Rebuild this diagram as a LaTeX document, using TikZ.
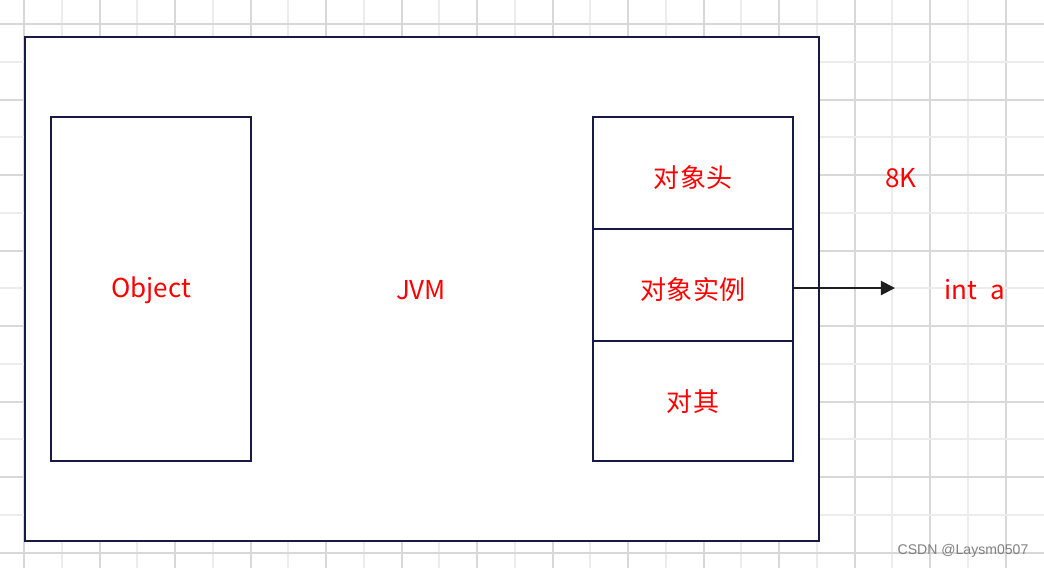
\documentclass[tikz,border=0pt]{standalone}
\usepackage{fontspec}
\setmainfont{Noto Sans CJK SC}
\newfontfamily\wmfont{Liberation Sans}
\usetikzlibrary{arrows.meta}
\definecolor{BoxNavy}{HTML}{161A45}
\definecolor{GridMajor}{HTML}{D8D8D8}
\definecolor{GridMinor}{HTML}{ECECEC}
\definecolor{LabelRed}{HTML}{FF0000}
\definecolor{ArrowBlack}{HTML}{1E1E1E}

\begin{document}
\begin{tikzpicture}[x=0.025cm, y=-0.025cm, font=\fontsize{18.5}{22}\selectfont,
    box/.style={draw=BoxNavy, line width=1.4pt, fill=white, inner sep=0pt},
    lbl/.style={text=LabelRed, inner sep=0pt},
    majorline/.style={GridMajor, line width=1.2pt},
    minorline/.style={GridMinor, line width=1.2pt}]
    \useasboundingbox (0,0) rectangle (1044,568);
    \fill[white] (0,0) rectangle (1044,568);

    % background grid
    \foreach \i in {0,...,26} {
        \pgfmathsetmacro{\gx}{round(24+37.75*\i)}
        \ifodd\i \def\gstyle{minorline}\else \def\gstyle{majorline}\fi
        \draw[\gstyle] (\gx,0) -- (\gx,568);
    }
    \foreach \j in {0,...,14} {
        \pgfmathsetmacro{\gy}{round(24+37.75*\j)}
        \ifodd\j \def\gstyle{minorline}\else \def\gstyle{majorline}\fi
        \draw[\gstyle] (0,\gy) -- (1044,\gy);
    }

    \node[box, minimum width=19.85cm, minimum height=12.6cm] (jvm) at (422,289) {};
    \node[box, minimum width=5cm, minimum height=8.6cm] (obj) at (151,289) {};

    % object layout
    \node[box, minimum width=5cm, minimum height=2.8cm] (hdr) at (693,173) {};
    \node[box, minimum width=5cm, minimum height=2.8cm] (inst) at (693,285) {};
    \node[box, minimum width=5cm, minimum height=3cm] (aln) at (693,401) {};

    \node[lbl] (jvmtxt) at (421,290) {JVM};
    \node[lbl] (objtxt) at (151,290) {Object};
    \node[lbl] (hdrtxt) at (693,178) {对象头};
    \node[lbl] (insttxt) at (693,290) {对象实例};
    \node[lbl] (alntxt) at (693,402) {对其};

    \node[lbl] (size) at (901,178) {8K};
    \node[lbl] (field) at (975,290) {int\hspace{0.5em}a};

    \coordinate (arrEnd) at (895,288);
    \draw[-{Triangle[length=10pt, width=10pt]}, ArrowBlack, line width=1.4pt] (inst.east |- arrEnd) -- (arrEnd);

    \node[text=black!50, font=\wmfont\fontsize{10}{12}\selectfont, inner sep=0pt] (wm) at (963,551) {CSDN @Laysm0507};
\end{tikzpicture}
\end{document}
